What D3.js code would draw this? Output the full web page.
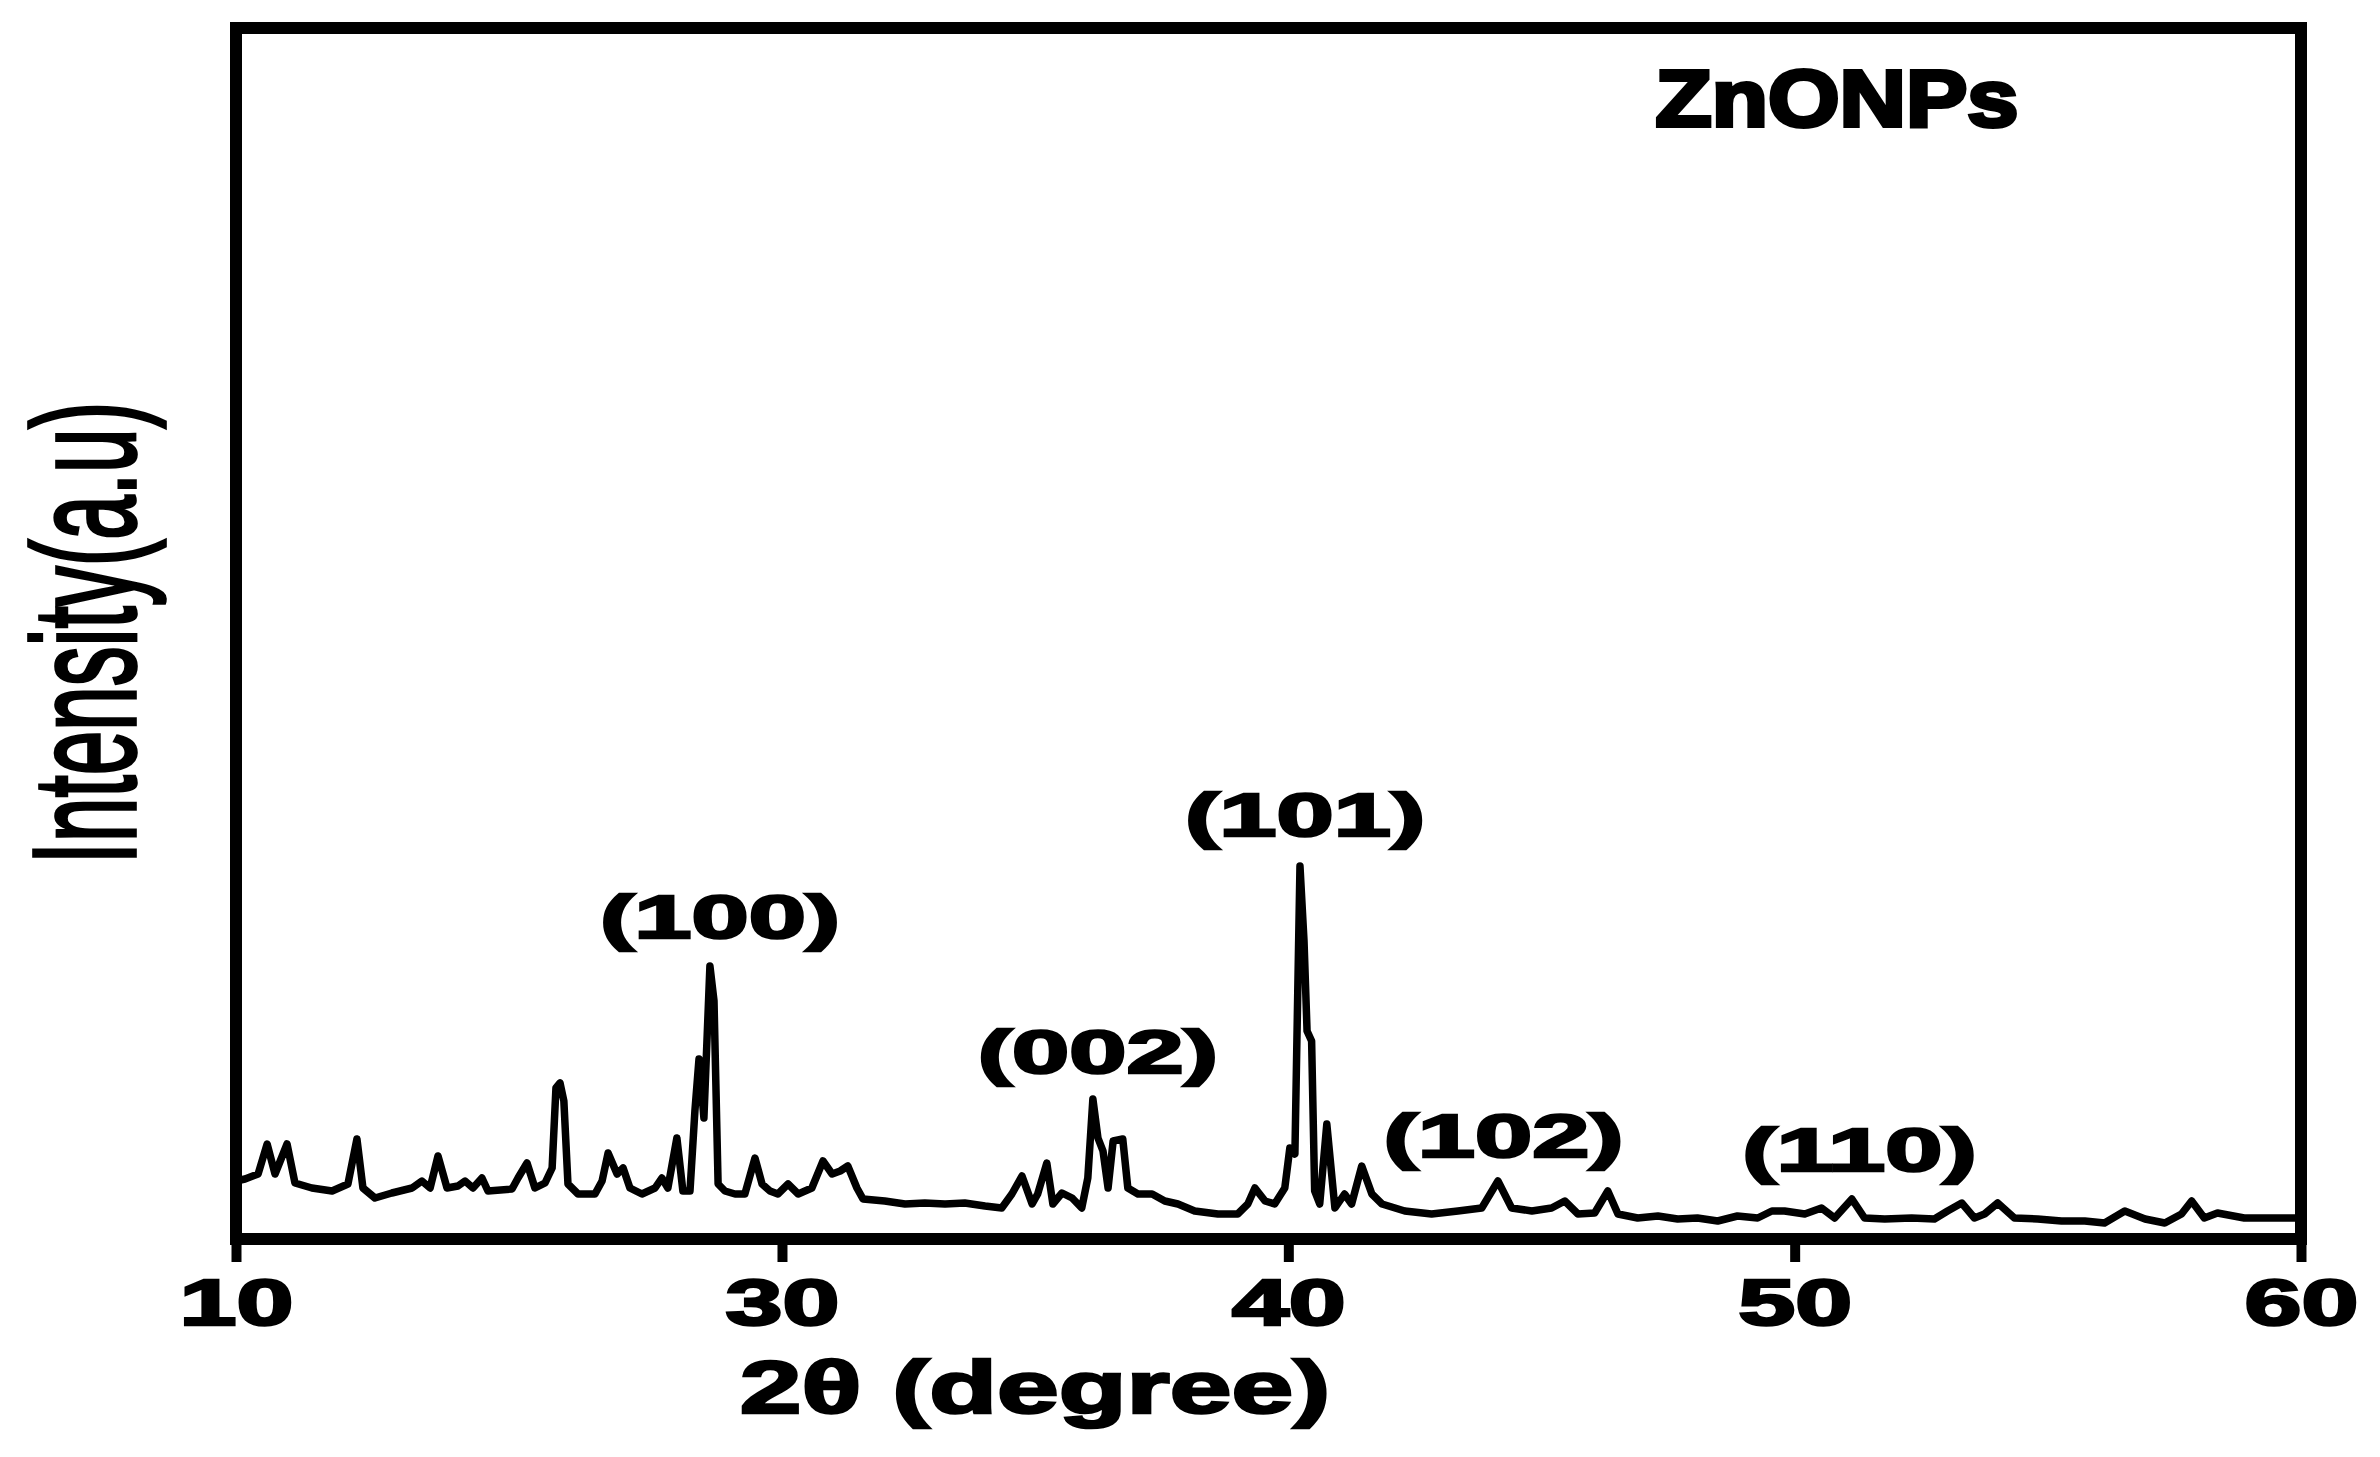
<!DOCTYPE html>
<html>
<head>
<meta charset="utf-8">
<script src="https://cdn.jsdelivr.net/npm/d3@7"></script>
<style>
  html, body { margin: 0; padding: 0; background: #fff; }
  svg { display: block; }
</style>
</head>
<body>
<div id="xrdChart"></div>
<script>
// ZnONPs XRD pattern
var W = 2380, H = 1457;

// 2theta positions (as read against the printed axis labels)
var twoTheta = [
  10.00, 10.33, 10.81, 11.14, 11.43, 11.87, 12.16, 12.78, 13.52, 14.10,
  14.43, 14.65, 15.09, 15.71, 16.45, 16.81, 17.11, 17.40, 17.73, 18.13,
  18.39, 18.68, 19.01, 19.23, 20.11, 20.33, 20.66, 20.95, 21.32, 21.58,
  21.72, 21.87, 22.01, 22.16, 22.53, 23.15, 23.41, 23.63, 23.96, 24.18,
  24.43, 24.87, 25.35, 25.60, 25.82, 26.15, 26.37, 26.63, 26.81, 26.96,
  27.14, 27.36, 27.51, 27.66, 27.91, 28.28, 28.64, 29.01, 29.27, 29.56,
  29.85, 30.12, 30.32, 30.59, 30.81, 30.99, 31.15, 31.30, 31.48, 31.60,
  32.03, 32.43, 32.82, 33.22, 33.61, 34.01, 34.34, 34.54, 34.74, 34.94,
  35.05, 35.23, 35.35, 35.53, 35.73, 35.92, 36.04, 36.14, 36.24, 36.34,
  36.44, 36.54, 36.73, 36.83, 37.03, 37.31, 37.56, 37.82, 38.15, 38.61,
  39.00, 39.20, 39.34, 39.54, 39.73, 39.93, 40.03, 40.13, 40.23, 40.31,
  40.37, 40.46, 40.52, 40.62, 40.76, 40.92, 41.11, 41.25, 41.45, 41.65,
  41.85, 42.30, 42.83, 43.35, 43.82, 44.14, 44.41, 44.81, 45.20, 45.46,
  45.72, 46.05, 46.31, 46.51, 46.90, 47.30, 47.69, 48.08, 48.48, 48.87,
  49.27, 49.55, 49.80, 50.20, 50.53, 50.79, 51.13, 51.38, 51.78, 52.31,
  52.76, 53.02, 53.30, 53.55, 53.75, 54.01, 54.34, 54.80, 55.27, 55.73,
  56.12, 56.52, 56.92, 57.31, 57.64, 57.84, 58.09, 58.35, 58.88, 59.42,
  59.88
];
var intensity = [
  58, 60, 65, 95, 65, 95, 56, 51, 48, 55,
  100, 51, 41, 46, 51, 58, 51, 83, 51, 53,
  58, 51, 61, 48, 50, 61, 76, 51, 56, 71,
  151, 156, 138, 55, 45, 45, 58, 86, 65, 71,
  51, 45, 51, 61, 51, 101, 48, 48, 128, 180,
  121, 273, 238, 55, 48, 45, 45, 81, 55, 48,
  45, 55, 45, 51, 78, 65, 68, 73, 51, 40,
  38, 35, 36, 35, 36, 33, 31, 45, 63, 35,
  45, 76, 35, 46, 41, 31, 61, 140, 101, 88,
  51, 98, 100, 51, 45, 45, 38, 35, 28, 25,
  25, 35, 51, 38, 35, 51, 91, 85, 373, 298,
  208, 198, 48, 35, 115, 31, 45, 35, 73, 45,
  35, 28, 25, 28, 31, 58, 31, 28, 31, 38,
  25, 26, 48, 25, 21, 23, 20, 21, 18, 23,
  21, 28, 28, 25, 31, 21, 40, 21, 20, 21,
  20, 28, 36, 21, 25, 36, 21, 20, 18, 18,
  16, 28, 20, 16, 25, 38, 21, 26, 21, 21,
  21
];

var xTicks = [10, 30, 40, 50, 60];
var xTickLabels = ["10", "30", "40", "50", "60"];

// hkl labels and where they sit (data units)
var planeLabels = ["(100)", "(002)", "(101)", "(102)", "(110)"];
var planeLabelX = [27.73, 36.24, 40.33, 44.25, 51.28];
var planeLabelY = [301, 166, 403, 82, 68];

var sampleName = "ZnONPs";
var xTitle = "2\u03B8 (degree)";
var yTitle = "Intensity(a.u)";

var plotLeft = 236, plotRight = 2301, plotTop = 28, plotBottom = 1239;

// the printed axis has its first label (10) where 20 would fall
var x = d3.scaleLinear()
  .domain([10, 30, 60])
  .range([plotLeft, plotLeft + (plotRight - plotLeft) * 0.2644, plotRight]);

var y = d3.scaleLinear()
  .domain([0, 1211])
  .range([plotBottom, plotTop]);

var data = twoTheta.map(function(d, i) { return {x: d, y: intensity[i]}; });

var svg = d3.select("#xrdChart")
  .append("svg")
  .attr("width", W)
  .attr("height", H)
  .style("background", "#fff");

var line = d3.line()
  .x(function(d) { return x(d.x); })
  .y(function(d) { return y(d.y); });

svg.append("path")
  .datum(data)
  .attr("d", line)
  .attr("fill", "none")
  .attr("stroke", "#000")
  .attr("stroke-width", 7.5)
  .attr("stroke-linejoin", "round")
  .attr("stroke-linecap", "round");

// frame
svg.append("rect")
  .attr("x", plotLeft)
  .attr("y", plotTop)
  .attr("width", plotRight - plotLeft)
  .attr("height", plotBottom - plotTop)
  .attr("fill", "none")
  .attr("stroke", "#000")
  .attr("stroke-width", 12);

var xAxis = svg.append("g")
  .attr("transform", "translate(0," + plotBottom + ")")
  .call(d3.axisBottom(x)
    .tickValues(xTicks)
    .tickFormat(function(d, i) { return xTickLabels[i]; })
    .tickSize(23)
    .tickSizeOuter(0));

xAxis.select(".domain").remove();
xAxis.selectAll(".tick line")
  .attr("stroke", "#000")
  .attr("stroke-width", 10);
xAxis.selectAll(".tick text")
  .attr("y", 86)
  .attr("dy", null)
  .attr("transform", "scale(1.6,1)")
  .attr("fill", "#000")
  .attr("stroke", "#000")
  .attr("stroke-width", 2.5)
  .style("font-family", "'Liberation Sans', Arial, sans-serif")
  .style("font-weight", "bold")
  .style("font-size", "64px");

function stretchedText(txt, cx, cy, size, sx, sw) {
  svg.append("text")
    .attr("transform", "translate(" + cx + "," + cy + ") scale(" + sx + ",1)")
    .attr("text-anchor", "middle")
    .attr("fill", "#000")
    .attr("stroke", "#000")
    .attr("stroke-width", sw)
    .style("font-family", "'Liberation Sans', Arial, sans-serif")
    .style("font-weight", "bold")
    .style("font-size", size + "px")
    .text(txt);
}

planeLabels.forEach(function(t, i) {
  stretchedText(t, x(planeLabelX[i]), y(planeLabelY[i]), 62, 1.66, 2.5);
});

stretchedText(sampleName, 1837, 126, 80, 1.15, 4);
stretchedText(xTitle, 1035, 1413, 74, 1.5, 2.5);

// y title, rotated
svg.append("text")
  .attr("transform", "translate(135,633) rotate(-90) scale(1,1.83)")
  .attr("text-anchor", "middle")
  .attr("fill", "#000")
  .attr("stroke", "#000")
  .attr("stroke-width", 2)
  .style("font-family", "'Liberation Sans', Arial, sans-serif")
  .style("font-size", "80px")
  .text(yTitle);
</script>
</body>
</html>
